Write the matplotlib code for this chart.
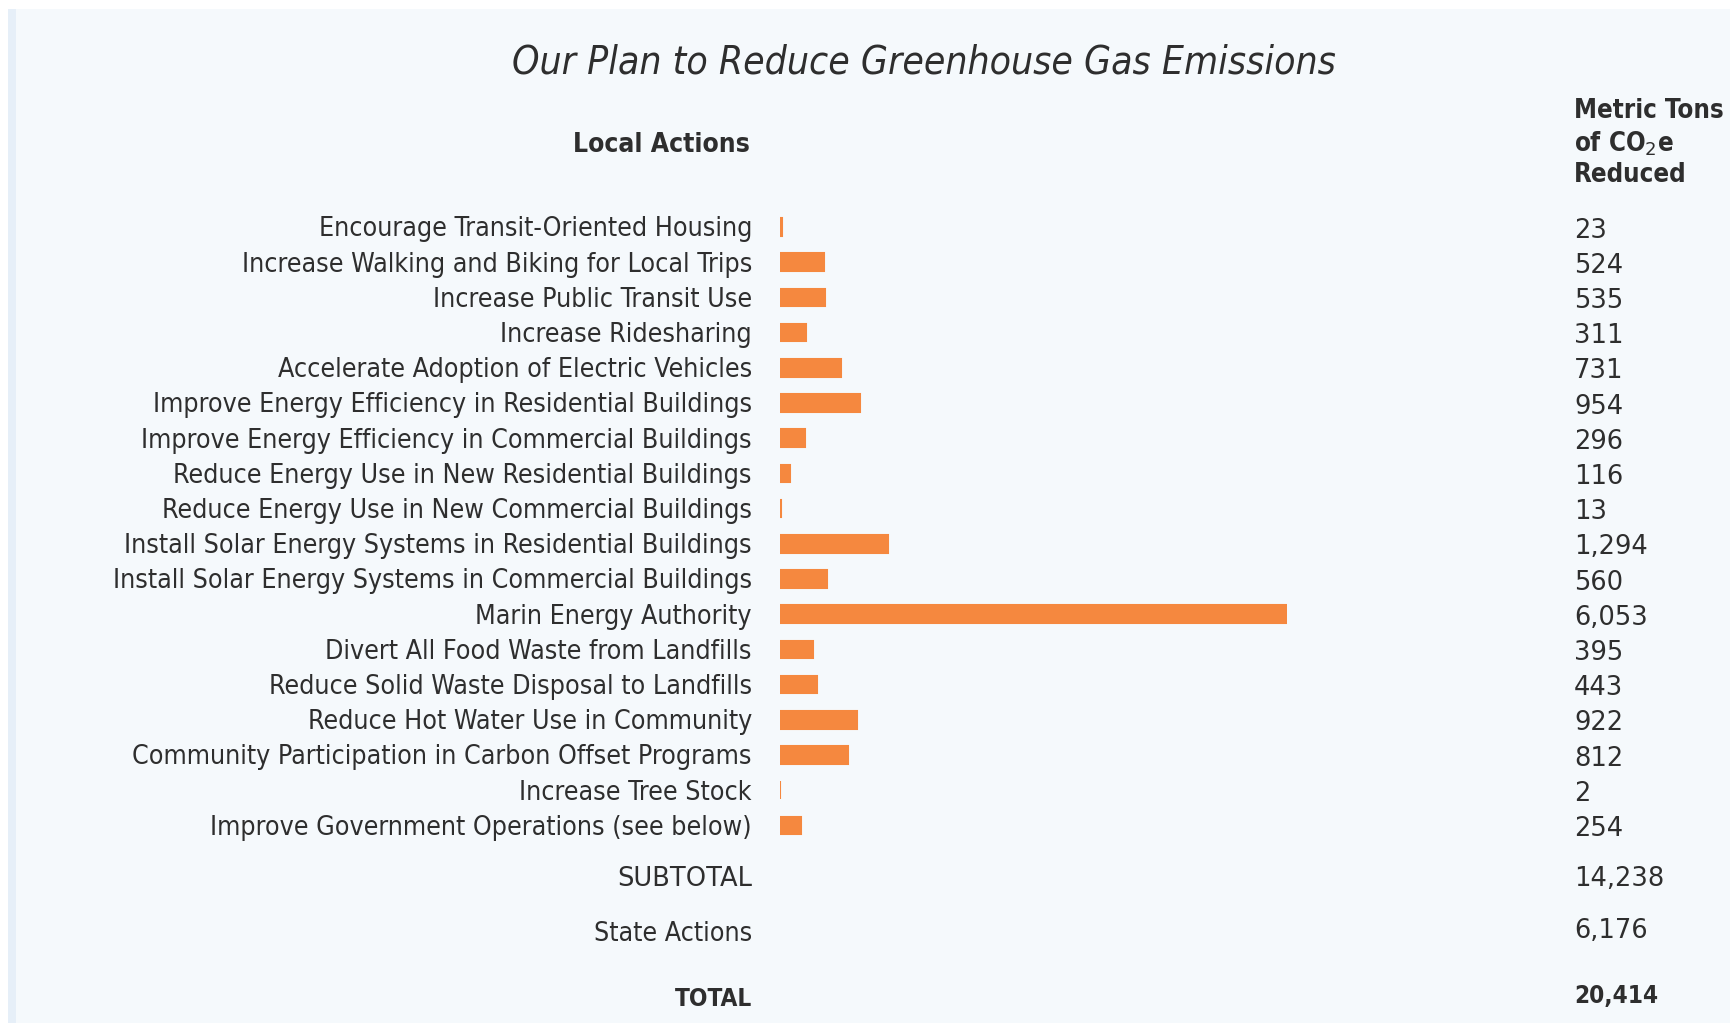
import matplotlib.pyplot as plt
from matplotlib.transforms import blended_transform_factory
from matplotlib.patches import Rectangle

# data
actions = [
    "Encourage Transit-Oriented Housing",
    "Increase Walking and Biking for Local Trips",
    "Increase Public Transit Use",
    "Increase Ridesharing",
    "Accelerate Adoption of Electric Vehicles",
    "Improve Energy Efficiency in Residential Buildings",
    "Improve Energy Efficiency in Commercial Buildings",
    "Reduce Energy Use in New Residential Buildings",
    "Reduce Energy Use in New Commercial Buildings",
    "Install Solar Energy Systems in Residential Buildings",
    "Install Solar Energy Systems in Commercial Buildings",
    "Marin Energy Authority",
    "Divert All Food Waste from Landfills",
    "Reduce Solid Waste Disposal to Landfills",
    "Reduce Hot Water Use in Community",
    "Community Participation in Carbon Offset Programs",
    "Increase Tree Stock",
    "Improve Government Operations (see below)",
]
tons = [23, 524, 535, 311, 731, 954, 296, 116, 13, 1294, 560, 6053,
        395, 443, 922, 812, 2, 254]
state_actions = 6176

subtotal = sum(tons)
total = subtotal + state_actions

BG = "#f5f9fc"
ORANGE = "#f5883f"
TXT = "#2e2e2e"
FONT = ["DejaVu Sans"]
COND = "condensed"

W, H = 1731, 1023
fig = plt.figure(figsize=(W / 100, H / 100), dpi=100)
fig.patch.set_facecolor("white")

# page background + left strip
fig.patches.append(Rectangle((8 / W, 0), 1 - 8 / W, 1 - 9 / H, transform=fig.transFigure,
                             facecolor=BG, edgecolor="none", zorder=-10))
fig.patches.append(Rectangle((8 / W, 0), 8 / W, 1 - 9 / H, transform=fig.transFigure,
                             facecolor="#e6eff8", edgecolor="none", zorder=-9))

row_h = 35.2
n = len(tons)
top_center = 227
ax_bottom = 1 - (top_center + (n - 0.5) * row_h) / H
ax = fig.add_axes([780 / W, ax_bottom, 507 / W, n * row_h / H])
ax.set_facecolor("none")
ax.barh(range(n), tons, height=0.5, color=ORANGE, edgecolor=ORANGE, linewidth=1.5)
ax.set_xlim(0, max(tons))
ax.set_ylim(n - 0.5, -0.5)
ax.axis("off")

tr = blended_transform_factory(fig.transFigure, ax.transData)
for i, (name, v) in enumerate(zip(actions, tons)):
    ax.text(752 / W, i + 0.07, name, transform=tr, ha="right", va="center",
            fontsize=19.2, color=TXT, family=FONT, stretch=COND)
    ax.text(1574 / W, i + 0.1, f"{v:,}", transform=tr, ha="left", va="center",
            fontsize=18.5, color=TXT, family=FONT)

# title and headers
fig.text(924 / W, 1 - 62 / H, "Our Plan to Reduce Greenhouse Gas Emissions",
         ha="center", va="center", fontsize=28, style="italic", color=TXT,
         family=FONT, stretch=COND)
fig.text(750 / W, 1 - 145 / H, "Local Actions", ha="right", va="center",
         fontsize=19, weight="bold", color=TXT, family=FONT, stretch=COND)
fig.text(1574 / W, 1 - 143 / H, "Metric Tons\nof CO$_2$e\nReduced", ha="left", va="center",
         fontsize=18.5, weight="bold", color=TXT, family=FONT, stretch=COND,
         linespacing=1.25)

# totals
fig.text(752 / W, 1 - 879 / H, "SUBTOTAL", ha="right", va="center",
         fontsize=18.5, color=TXT, family=FONT)
fig.text(1574 / W, 1 - 879 / H, f"{subtotal:,}", ha="left", va="center",
         fontsize=18.5, color=TXT, family=FONT)
fig.text(752 / W, 1 - 934 / H, "State Actions", ha="right", va="center",
         fontsize=19.2, color=TXT, family=FONT, stretch=COND)
fig.text(1574 / W, 1 - 931 / H, f"{state_actions:,}", ha="left", va="center",
         fontsize=18.5, color=TXT, family=FONT)
fig.text(752 / W, 1 - 999 / H, "TOTAL", ha="right", va="center",
         fontsize=17.5, weight="bold", color=TXT, family=FONT, stretch=COND)
fig.text(1574 / W, 1 - 996 / H, f"{total:,}", ha="left", va="center",
         fontsize=17.5, weight="bold", color=TXT, family=FONT, stretch=COND)

fig.savefig("out.png", dpi=100, facecolor=fig.get_facecolor())
